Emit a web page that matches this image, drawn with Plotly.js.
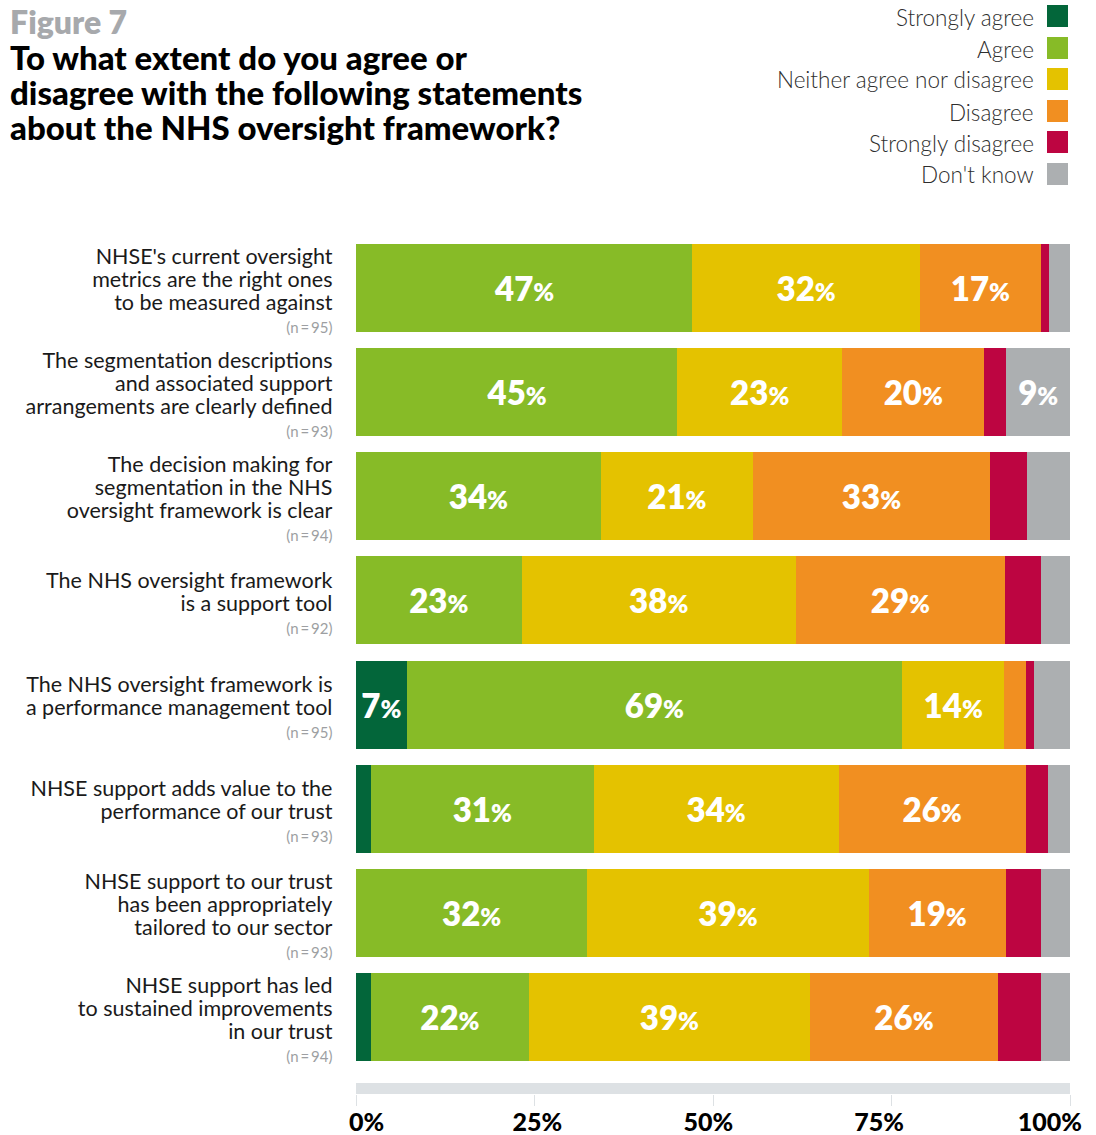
<!DOCTYPE html>
<html>
<head>
<meta charset="utf-8">
<script src="https://cdn.plot.ly/plotly-3.0.1.min.js"></script>
<style>body{margin:0;background:#fff}#chart{width:1096px;height:1135px}</style>
</head>
<body>
<div id="chart"></div>
<script>
// ---- Data ----
const statements = [
  ["NHSE's current oversight", "metrics are the right ones", "to be measured against"],
  ["The segmentation descriptions", "and associated support", "arrangements are clearly defined"],
  ["The decision making for", "segmentation in the NHS", "oversight framework is clear"],
  ["The NHS oversight framework", "is a support tool"],
  ["The NHS oversight framework is", "a performance management tool"],
  ["NHSE support adds value to the", "performance of our trust"],
  ["NHSE support to our trust", "has been appropriately", "tailored to our sector"],
  ["NHSE support has led", "to sustained improvements", "in our trust"]
];
const nCounts = [95, 93, 94, 92, 95, 93, 93, 94];
const seriesNames = ["Strongly agree", "Agree", "Neither agree nor disagree", "Disagree", "Strongly disagree", "Don't know"];
const seriesColors = ["#03663a", "#87bb27", "#e4c200", "#f18f21", "#bd0541", "#acafb1"];
const stronglyAgree    = [0, 0, 0, 0, 7.1, 2.1, 0, 2.1];
const agree            = [47.1, 45.0, 34.3, 23.2, 69.4, 31.2, 32.4, 22.1];
const neither          = [31.9, 23.1, 21.3, 38.4, 14.3, 34.3, 39.4, 39.4];
const disagree         = [16.9, 19.9, 33.2, 29.3, 3.1, 26.2, 19.2, 26.3];
const stronglyDisagree = [1.1, 3.1, 5.2, 5.0, 1.0, 3.1, 5.0, 6.0];
const dontKnow         = [3.0, 8.9, 6.0, 4.1, 5.1, 3.1, 4.0, 4.1];
const tickValues = [0, 25, 50, 75, 100];
const tickLabels = ["0%", "25%", "50%", "75%", "100%"];
const figureLabel = "Figure 7";
const titleLines = ["To what extent do you agree or", "disagree with the following statements", "about the NHS oversight framework?"];

const seriesValues = [stronglyAgree, agree, neither, disagree, stronglyDisagree, dontKnow];

// ---- Layout helpers (pixel geometry) ----
const W = 1096, H = 1135;
const M = {l: 356, r: 26, t: 236, b: 41};
const plotW = W - M.l - M.r, plotH = H - M.t - M.b;
const pxX = px => (px - M.l) / plotW;
const pxY = py => (H - M.b - py) / plotH;
const FONT = "Lato, 'Open Sans', sans-serif";
const sized = (t, s) => '<span style="font-size:' + s + 'px">' + t + '</span>';

const idKey = statements.map(s => s.join(" "));
const tickText = statements.map((s, i) =>
  s.map(line => sized(line, 21.5)).join("<br>") +
  '<br><span style="font-size:15px;color:#9d9fa2">(n\u2009=\u2009' + nCounts[i] + ')</span>');

const traces = seriesValues.map((vals, k) => ({
  type: "bar",
  orientation: "h",
  name: seriesNames[k],
  x: vals,
  y: idKey,
  marker: {color: seriesColors[k], line: {width: 0}},
  text: vals.map(v => Math.round(v) >= 7 ? Math.round(v) + sized("%", 25) : ""),
  textposition: "inside",
  insidetextanchor: "middle",
  textangle: 0,
  constraintext: "none",
  textfont: {family: FONT, size: 33, color: "#ffffff", weight: 800},
  hoverinfo: "skip",
  showlegend: false
}));

// Legend drawn at the top right, swatches to the right of the labels
const legendY = [16, 48, 79, 111, 142, 174];
const annotations = seriesNames.map((nm, k) => ({
  xref: "paper", yref: "paper",
  x: pxX(1036), y: pxY(legendY[k] + 1),
  xanchor: "right", yanchor: "middle",
  text: nm, showarrow: false,
  font: {family: FONT, size: 22.5, color: "#2e2e2e", weight: 300}
}));
annotations.push({
  xref: "paper", yref: "paper",
  x: pxX(8), y: pxY(0), xanchor: "left", yanchor: "top",
  text: figureLabel, showarrow: false,
  font: {family: FONT, size: 32, color: "#a7a9ac", weight: 800}
});
const shapes = seriesNames.map((nm, k) => ({
  type: "rect", xref: "paper", yref: "paper",
  x0: pxX(1047), x1: pxX(1068), y0: pxY(legendY[k] + 11), y1: pxY(legendY[k] - 11),
  fillcolor: seriesColors[k], line: {width: 0}
}));
// light grey baseline band above the axis ticks
shapes.push({
  type: "rect", xref: "paper", yref: "paper", layer: "below",
  x0: 0, x1: 1, y0: 0, y1: pxY(1083),
  fillcolor: "#dde1e4", line: {width: 0}
});

const layout = {
  width: W, height: H,
  margin: M,
  paper_bgcolor: "#fff", plot_bgcolor: "#fff",
  barmode: "stack",
  bargap: 0.154,
  title: {
    text: titleLines.map(l => sized(l, 33)).join("<br>"),
    font: {family: FONT, size: 27, color: "#000", weight: 900},
    x: 10 / W, xref: "container", xanchor: "left",
    y: 1 - 70 / H, yref: "container", yanchor: "top"
  },
  xaxis: {
    range: [0, 100], fixedrange: true,
    tickmode: "array", tickvals: tickValues, ticktext: tickLabels,
    showticklabels: false,
    ticks: "outside", ticklen: 11, tickcolor: "#dde1e4", tickwidth: 1,
    showgrid: false, zeroline: false, showline: false
  },
  xaxis2: {
    overlaying: "x", anchor: "y", side: "bottom",
    range: [-1.55, 102.95], fixedrange: true,
    tickmode: "array", tickvals: tickValues, ticktext: tickLabels,
    ticks: "outside", ticklen: 6, tickcolor: "rgba(0,0,0,0)",
    tickfont: {family: FONT, size: 25, color: "#000", weight: 900},
    showgrid: false, zeroline: false, showline: false
  },
  yaxis: {
    type: "category",
    categoryorder: "array", categoryarray: idKey,
    range: [7.74, -0.5],
    tickmode: "array", tickvals: idKey, ticktext: tickText,
    ticks: "outside", ticklen: 19, tickcolor: "rgba(0,0,0,0)",
    ticklabelshift: -4,
    tickfont: {family: FONT, size: 17.7, color: "#1a1a1a"},
    showgrid: false, zeroline: false, showline: false, fixedrange: true
  },
  annotations: annotations,
  shapes: shapes,
  font: {family: FONT}
};

// invisible trace that activates the label axis
traces.push({type: "scatter", x: [0], y: [idKey[0]], xaxis: "x2", mode: "markers",
  marker: {opacity: 0}, hoverinfo: "skip", showlegend: false});

Plotly.newPlot("chart", traces, layout, {displayModeBar: false, staticPlot: true});
</script>
</body>
</html>
